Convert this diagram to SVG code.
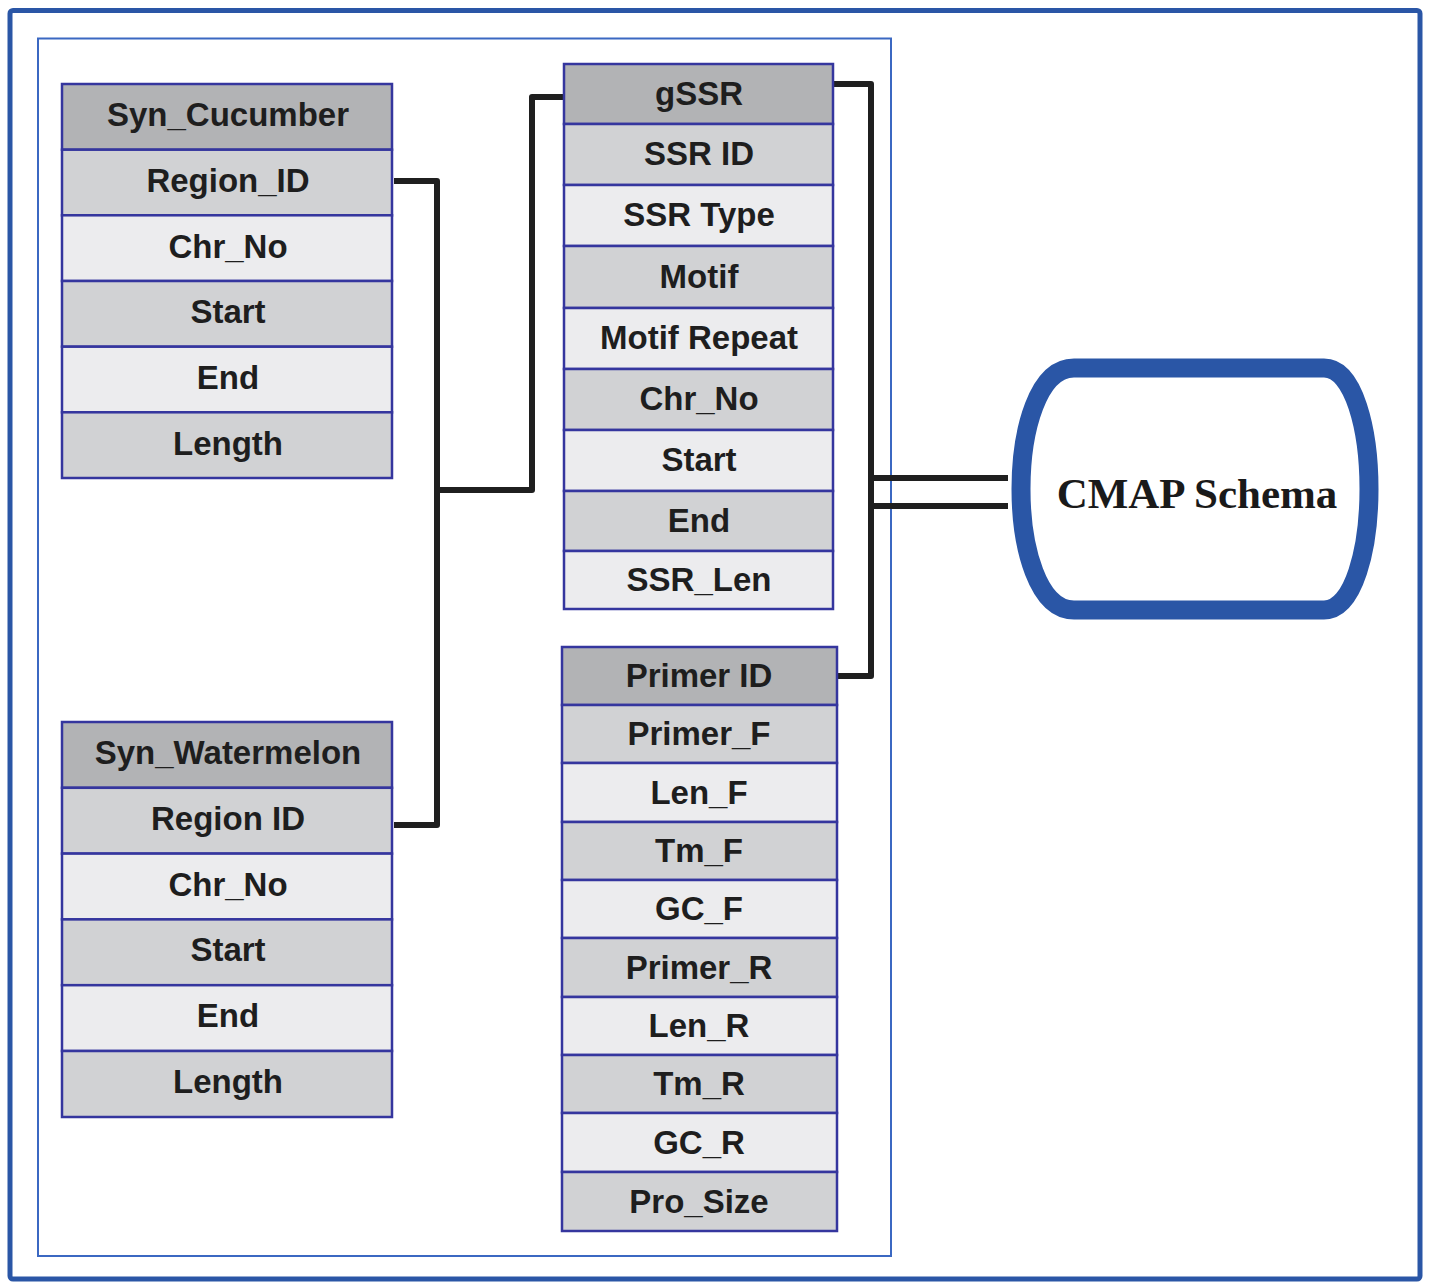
<svg xmlns="http://www.w3.org/2000/svg" width="1429" height="1283" viewBox="0 0 1429 1283">
<style>
.h{fill:#b2b3b5;stroke:#35369e;stroke-width:2.5}
.m{fill:#d1d2d4;stroke:#35369e;stroke-width:2.5}
.l{fill:#ececee;stroke:#35369e;stroke-width:2.5}
.t{font-family:"Liberation Sans",Arial,sans-serif;font-weight:bold;font-size:33px;text-anchor:middle;fill:#1e1e1e}
.c{fill:none;stroke:#1f1f1f;stroke-width:6;stroke-linejoin:round;stroke-linecap:butt}
</style>
<rect width="1429" height="1283" fill="#ffffff"/>
<rect x="10" y="10.5" width="1410" height="1268.5" rx="3" fill="none" stroke="#2a56a6" stroke-width="5"/>
<rect x="38" y="38.5" width="853" height="1217.5" fill="none" stroke="#3b68c2" stroke-width="2"/>

<g id="connectors">
<path class="c" d="M394,181 H437 V825 H394"/>
<path class="c" d="M437,490 H532 V97 H564"/>
<path class="c" d="M833,84 H871 V676 H833"/>
<path class="c" d="M871,478 H1008"/>
<path class="c" d="M871,506 H1008"/>
</g>

<g id="syn_cucumber">
<rect class="h" x="62" y="84" width="330" height="65.7"/>
<rect class="m" x="62" y="149.7" width="330" height="65.7"/>
<rect class="l" x="62" y="215.3" width="330" height="65.7"/>
<rect class="m" x="62" y="281" width="330" height="65.7"/>
<rect class="l" x="62" y="346.7" width="330" height="65.7"/>
<rect class="m" x="62" y="412.3" width="330" height="65.7"/>
<text class="t" x="228" y="126">Syn_Cucumber</text>
<text class="t" x="228" y="192">Region_ID</text>
<text class="t" x="228" y="258">Chr_No</text>
<text class="t" x="228" y="323">Start</text>
<text class="t" x="228" y="389">End</text>
<text class="t" x="228" y="455">Length</text>
</g>

<g id="syn_watermelon">
<rect class="h" x="62" y="722" width="330" height="65.8"/>
<rect class="m" x="62" y="787.8" width="330" height="65.8"/>
<rect class="l" x="62" y="853.6" width="330" height="65.8"/>
<rect class="m" x="62" y="919.4" width="330" height="65.8"/>
<rect class="l" x="62" y="985.2" width="330" height="65.8"/>
<rect class="m" x="62" y="1051" width="330" height="66"/>
<text class="t" x="228" y="764">Syn_Watermelon</text>
<text class="t" x="228" y="830">Region ID</text>
<text class="t" x="228" y="896">Chr_No</text>
<text class="t" x="228" y="961">Start</text>
<text class="t" x="228" y="1027">End</text>
<text class="t" x="228" y="1093">Length</text>
</g>

<g id="gssr">
<rect class="h" x="564" y="64" width="269" height="60"/>
<rect class="m" x="564" y="124" width="269" height="61"/>
<rect class="l" x="564" y="185" width="269" height="61"/>
<rect class="m" x="564" y="246" width="269" height="62"/>
<rect class="l" x="564" y="308" width="269" height="61"/>
<rect class="m" x="564" y="369" width="269" height="61"/>
<rect class="l" x="564" y="430" width="269" height="61"/>
<rect class="m" x="564" y="491" width="269" height="60"/>
<rect class="l" x="564" y="551" width="269" height="58"/>
<text class="t" x="699" y="105">gSSR</text>
<text class="t" x="699" y="165">SSR ID</text>
<text class="t" x="699" y="226">SSR Type</text>
<text class="t" x="699" y="288">Motif</text>
<text class="t" x="699" y="349">Motif Repeat</text>
<text class="t" x="699" y="410">Chr_No</text>
<text class="t" x="699" y="471">Start</text>
<text class="t" x="699" y="532">End</text>
<text class="t" x="699" y="591">SSR_Len</text>
</g>

<g id="primer">
<rect class="h" x="562" y="647" width="275" height="58"/>
<rect class="m" x="562" y="705" width="275" height="58"/>
<rect class="l" x="562" y="763" width="275" height="59"/>
<rect class="m" x="562" y="822" width="275" height="58"/>
<rect class="l" x="562" y="880" width="275" height="58"/>
<rect class="m" x="562" y="938" width="275" height="59"/>
<rect class="l" x="562" y="997" width="275" height="58"/>
<rect class="m" x="562" y="1055" width="275" height="58"/>
<rect class="l" x="562" y="1113" width="275" height="59"/>
<rect class="m" x="562" y="1172" width="275" height="59"/>
<text class="t" x="699" y="687">Primer ID</text>
<text class="t" x="699" y="745">Primer_F</text>
<text class="t" x="699" y="804">Len_F</text>
<text class="t" x="699" y="862">Tm_F</text>
<text class="t" x="699" y="920">GC_F</text>
<text class="t" x="699" y="979">Primer_R</text>
<text class="t" x="699" y="1037">Len_R</text>
<text class="t" x="699" y="1095">Tm_R</text>
<text class="t" x="699" y="1154">GC_R</text>
<text class="t" x="699" y="1213">Pro_Size</text>
</g>

<g id="cmap">
<path d="M1074,368 H1324 C1354,368 1369,430 1369,489 C1369,548 1354,610 1324,610 H1074 C1038,610 1021,548 1021,489 C1021,430 1038,368 1074,368 Z" fill="#ffffff" stroke="#2a56a6" stroke-width="19"/>
<text x="1197" y="508" font-family="'Liberation Serif','Times New Roman',serif" font-weight="bold" font-size="43" text-anchor="middle" fill="#1a1a1a">CMAP Schema</text>
</g>
</svg>
